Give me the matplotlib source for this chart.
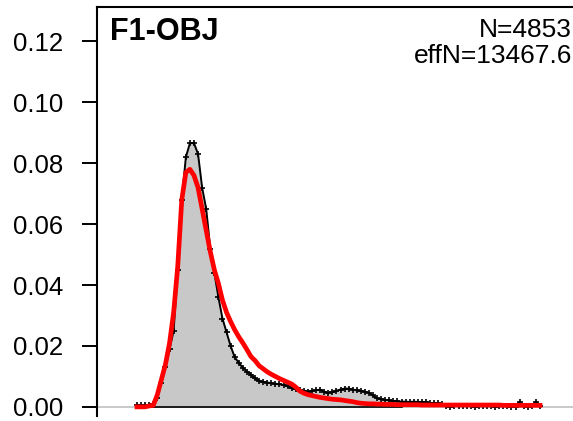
import numpy as np
import matplotlib
matplotlib.use("Agg")
import matplotlib.pyplot as plt

plt.rcParams['font.family'] = ['Liberation Sans', 'DejaVu Sans']

# length bins (no x labels visible in the reference)
bins = np.arange(10, 210, 2)

# observed proportions (grey polygon, black line with + points)
obs = [0.0005, 0.0005, 0.0005, 0.0006, 0.001, 0.003, 0.008, 0.013, 0.019, 0.025,
       0.045, 0.068, 0.082, 0.0866, 0.0866, 0.083, 0.072, 0.065, 0.052, 0.044,
       0.036, 0.029, 0.0245, 0.020, 0.0163, 0.0145, 0.0128, 0.0116, 0.0105, 0.0094,
       0.0085, 0.0082, 0.008, 0.0078, 0.0076, 0.0074, 0.0072, 0.0068, 0.0062, 0.0058,
       0.0055, 0.0052, 0.005, 0.0052, 0.0055, 0.0056, 0.005, 0.0046, 0.0048, 0.0053,
       0.0057, 0.006, 0.006, 0.0057, 0.0054, 0.0052, 0.005, 0.0046, 0.0038, 0.0028,
       0.0025, 0.0023, 0.0021, 0.0019, 0.0018, 0.0017, 0.0017, 0.0016, 0.0017, 0.0016,
       0.0015, 0.0016, 0.0013, 0.0012, 0.0012, 0.0008, 0.0004, 0.0, 0.0003, 0.0003,
       0.0003, 0.0004, 0.0003, 0.0, 0.0002, 0.0003, 0.0002, 0.0003, 0.0, 0.0002,
       0.0003, 0.0002, 0.0, 0.0, 0.0015, 0.0002, 0.0, 0.0002, 0.0015, 0.0002]

# expected proportions (red line)
exp = [0.0, 0.0, 0.0, 0.0003, 0.0005, 0.004, 0.009, 0.014, 0.021, 0.031,
       0.046, 0.068, 0.077, 0.078, 0.076, 0.072, 0.065, 0.058, 0.051, 0.045,
       0.0405, 0.035, 0.031, 0.028, 0.0253, 0.023, 0.021, 0.0188, 0.0165, 0.0152,
       0.0135, 0.0125, 0.0115, 0.0107, 0.0100, 0.0093, 0.0087, 0.0081, 0.0075, 0.0065,
       0.0052, 0.0045, 0.0040, 0.0037, 0.0034, 0.0031, 0.0029, 0.0027, 0.0025, 0.0024,
       0.0023, 0.0021, 0.0019, 0.0017, 0.0014, 0.0012, 0.0011, 0.0010, 0.0010, 0.0009,
       0.0009, 0.0008, 0.0008, 0.0008, 0.0007, 0.0007, 0.0007, 0.0007, 0.0007, 0.0007,
       0.0006, 0.0006, 0.0006, 0.0006, 0.0006, 0.0006, 0.0006, 0.0006, 0.0006, 0.0006,
       0.0006, 0.0006, 0.0006, 0.0006, 0.0006, 0.0006, 0.0006, 0.0006, 0.0006, 0.0006,
       0.0005, 0.0005, 0.0005, 0.0005, 0.0005, 0.0005, 0.0005, 0.0005, 0.0005, 0.0005]

yticks = [0.00, 0.02, 0.04, 0.06, 0.08, 0.10, 0.12]
panel_label = "F1-OBJ"
n_text = "N=4853"
effn_text = "effN=13467.6"

fig = plt.figure(figsize=(5.73, 4.21), dpi=100)
ax = fig.add_axes([97 / 573, 5 / 421, 481 / 573, 409 / 421])

# grey zero line, then observed polygon, observed line, expected line
ax.axhline(0, color='#c0c0c0', lw=1.2, zorder=1)
ax.fill_between(bins, 0, obs, color='#c8c8c8', lw=0, zorder=2)
ax.plot([bins[4], bins[65]], [0, 0], color='black', lw=1.2, zorder=3)
ax.plot(bins, obs, color='black', lw=1.4, marker='+', ms=4.5, mew=1.2, zorder=4)
ax.plot(bins, exp, color='red', lw=3.4, zorder=5)

ax.set_xlim(bins[0] - 19.66, bins[0] + 216.7)
ax.set_ylim(-0.003, 0.1313)
ax.set_yticks(yticks)
ax.set_yticklabels(["%.2f" % v for v in yticks])
ax.set_xticks([])
ax.tick_params(axis='y', length=10.8, width=1.4, pad=13.5, labelsize=18.5)
ax.spines['bottom'].set_visible(False)
ax.spines['right'].set_visible(False)
ax.spines['left'].set_linewidth(1.5)
ax.spines['top'].set_linewidth(1.5)

ax.text(0.027, 0.919, panel_label, transform=ax.transAxes, fontsize=22,
        fontweight='bold', ha='left', va='baseline')
ax.text(0.9875, 0.9267, n_text, transform=ax.transAxes, fontsize=19,
        ha='right', va='baseline')
ax.text(0.9875, 0.863, effn_text, transform=ax.transAxes, fontsize=19,
        ha='right', va='baseline')

fig.savefig("out.png", dpi=100)
